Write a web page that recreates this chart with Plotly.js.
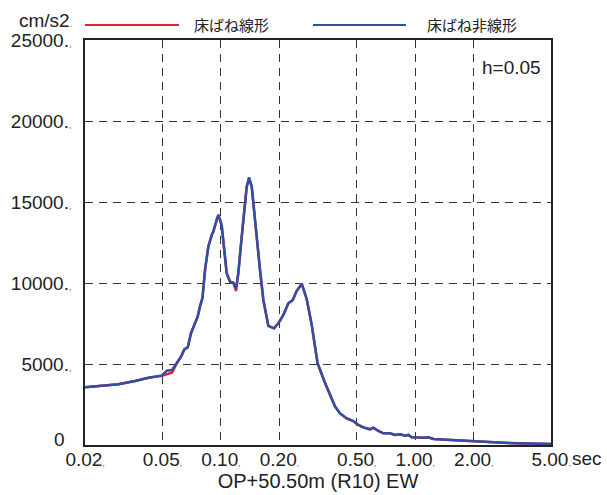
<!DOCTYPE html>
<html>
<head>
<meta charset="utf-8">
<script src="https://cdn.plot.ly/plotly-3.0.1.min.js"></script>
<style>
  html, body { margin: 0; padding: 0; background: #fff; }
  #chart { width: 607px; height: 495px; }
</style>
</head>
<body>
<div id="chart"></div>
<script>
// ---- data ----
var seriesNames = ['床ばね線形', '床ばね非線形'];
var periods = [0.02, 0.0244, 0.0297, 0.0362, 0.0424, 0.0496, 0.0527, 0.0561, 0.0593, 0.0624,
  0.0649, 0.0676, 0.0702, 0.0737, 0.0760, 0.0781, 0.0805, 0.0829, 0.0862, 0.0898,
  0.0915, 0.0952, 0.0971, 0.1010, 0.1038, 0.1072, 0.1115, 0.1160, 0.1197, 0.1230,
  0.1281, 0.1321, 0.1359, 0.1397, 0.1442, 0.1482, 0.1530, 0.1591, 0.1655, 0.1756,
  0.1878, 0.1976, 0.2098, 0.2226, 0.2345, 0.2458, 0.2609, 0.2768, 0.2937, 0.3146,
  0.3414, 0.3648, 0.3870, 0.4108, 0.4446, 0.4806, 0.5100, 0.5412, 0.5860, 0.6094,
  0.6466, 0.6860, 0.7426, 0.7880, 0.8360, 0.8872, 0.9226, 0.9604, 1.019, 1.102,
  1.169, 1.241, 1.454, 1.770, 2.075, 2.43, 2.84, 3.33, 3.90, 4.76, 5.00];
var linearAcc = [3560, 3640, 3745, 3950, 4155, 4280, 4380, 4460, 5040, 5450,
  5900, 6030, 6900, 7510, 7920, 8540, 9100, 10800, 12240, 12960,
  13170, 13890, 14200, 13580, 12240, 10600, 10080, 10020, 9500, 10600,
  12860, 14510, 15950, 16520, 15950, 14510, 12650, 10800, 8950, 7350,
  7200, 7510, 8030, 8750, 8950, 9520, 9940, 9000, 7400, 5050,
  3920, 3100, 2370, 1950, 1640, 1480, 1235, 1090, 970, 1070,
  865, 720, 720, 620, 660, 575, 620, 475, 450, 450,
  475, 370, 330, 265, 205, 165, 140, 105, 80, 60, 55];
var nonlinearAcc = [3560, 3640, 3745, 3950, 4155, 4280, 4590, 4630, 5040, 5450,
  5900, 6030, 6900, 7510, 7920, 8540, 9100, 10800, 12240, 12960,
  13170, 13890, 14200, 13580, 12240, 10600, 10080, 10020, 9670, 10600,
  12860, 14510, 15950, 16460, 15950, 14510, 12650, 10800, 8950, 7350,
  7200, 7510, 8030, 8750, 8950, 9520, 9940, 9000, 7400, 5050,
  3920, 3100, 2370, 1950, 1640, 1480, 1235, 1090, 970, 1070,
  865, 720, 720, 620, 660, 575, 620, 475, 450, 450,
  475, 370, 330, 265, 205, 165, 140, 105, 80, 60, 55];
var xTickVals = [0.02, 0.05, 0.1, 0.2, 0.5, 1, 2, 5];
var xTickText = ['0.02', '0.05', '0.10', '0.20', '0.50', '1.00', '2.00', '5.00'];
var yTickVals = [0, 5000, 10000, 15000, 20000, 25000];
var yTickText = ['', '5000.', '10000.', '15000.', '20000.', '25000.'];
var seriesColors = ['#e3242b', '#2f4ea6'];

// ---- chart ----
var FONT = '"Liberation Sans", Arial, Helvetica, sans-serif';
var CJK = '"Noto Sans CJK JP", "Noto Sans", sans-serif';
var small = function (t) { return t + '<span style="font-size:8px">,</span>'; };

var traces = [
  { x: periods, y: linearAcc, name: seriesNames[0], type: 'scatter', mode: 'lines',
    line: { color: seriesColors[0], width: 2.5 } },
  { x: periods, y: nonlinearAcc, name: seriesNames[1], type: 'scatter', mode: 'lines',
    line: { color: seriesColors[1], width: 2.5 } }
];

var plotL = 85, plotR = 551, plotT = 40, plotB = 445;
var W = 607, H = 495;
var pw = plotR - plotL, ph = plotB - plotT;
function px(x) { return (x - plotL) / pw; }
function py(y) { return (plotB - y) / ph; }

var axisCommon = {
  showline: true, mirror: true, linecolor: '#222', linewidth: 2,
  showgrid: true, gridcolor: '#333', gridwidth: 1, griddash: '8px,6px',
  zeroline: false, ticks: '', tickfont: { family: FONT, size: 19, color: '#222' },
  fixedrange: true
};

var layout = {
  width: W, height: H,
  margin: { l: plotL, r: W - plotR, t: plotT, b: H - plotB },
  paper_bgcolor: '#fff', plot_bgcolor: '#fff',
  showlegend: false,
  font: { family: FONT, color: '#222' },
  xaxis: Object.assign({}, axisCommon, {
    type: 'log', range: [Math.log10(0.02), Math.log10(5)],
    tickmode: 'array', tickvals: xTickVals, ticktext: xTickText.map(small),
    ticklabelstandoff: -4,
    title: { text: 'OP+50.50m (R10) EW', font: { family: FONT, size: 20, color: '#222' }, standoff: 4 }
  }),
  yaxis: Object.assign({}, axisCommon, {
    range: [0, 25000], tickmode: 'array', tickvals: yTickVals,
    ticktext: yTickText.map(function (t) { return t ? small(t) : t; }),
    ticklabelstandoff: 8
  }),
  shapes: [
    { type: 'line', xref: 'paper', yref: 'paper', x0: px(85), x1: px(179), y0: py(25), y1: py(25),
      line: { color: seriesColors[0], width: 2 } },
    { type: 'line', xref: 'paper', yref: 'paper', x0: px(313), x1: px(406), y0: py(25), y1: py(25),
      line: { color: seriesColors[1], width: 2 } }
  ],
  annotations: [
    { xref: 'paper', yref: 'paper', x: px(74), y: py(21), xanchor: 'right', yanchor: 'middle',
      text: 'cm/s2' + '<span style="font-size:8px">.</span>', showarrow: false,
      font: { family: FONT, size: 19, color: '#222' } },
    { xref: 'paper', yref: 'paper', x: px(192), y: py(24), xanchor: 'left', yanchor: 'middle',
      text: seriesNames[0], showarrow: false, font: { family: CJK, size: 15, color: '#222' } },
    { xref: 'paper', yref: 'paper', x: px(425), y: py(24), xanchor: 'left', yanchor: 'middle',
      text: seriesNames[1], showarrow: false, font: { family: CJK, size: 15, color: '#222' } },
    { xref: 'paper', yref: 'paper', x: px(543), y: py(68), xanchor: 'right', yanchor: 'middle',
      text: 'h=0.05', showarrow: false, font: { family: FONT, size: 19, color: '#222' } },
    { xref: 'paper', yref: 'paper', x: px(67), y: py(439), xanchor: 'right', yanchor: 'middle',
      text: '0', showarrow: false, font: { family: FONT, size: 19, color: '#222' } },
    { xref: 'paper', yref: 'paper', x: px(570), y: py(458), xanchor: 'left', yanchor: 'middle',
      text: 'sec', showarrow: false, font: { family: FONT, size: 19, color: '#222' } }
  ]
};

Plotly.newPlot('chart', traces, layout, { staticPlot: true, displayModeBar: false });
</script>
</body>
</html>
